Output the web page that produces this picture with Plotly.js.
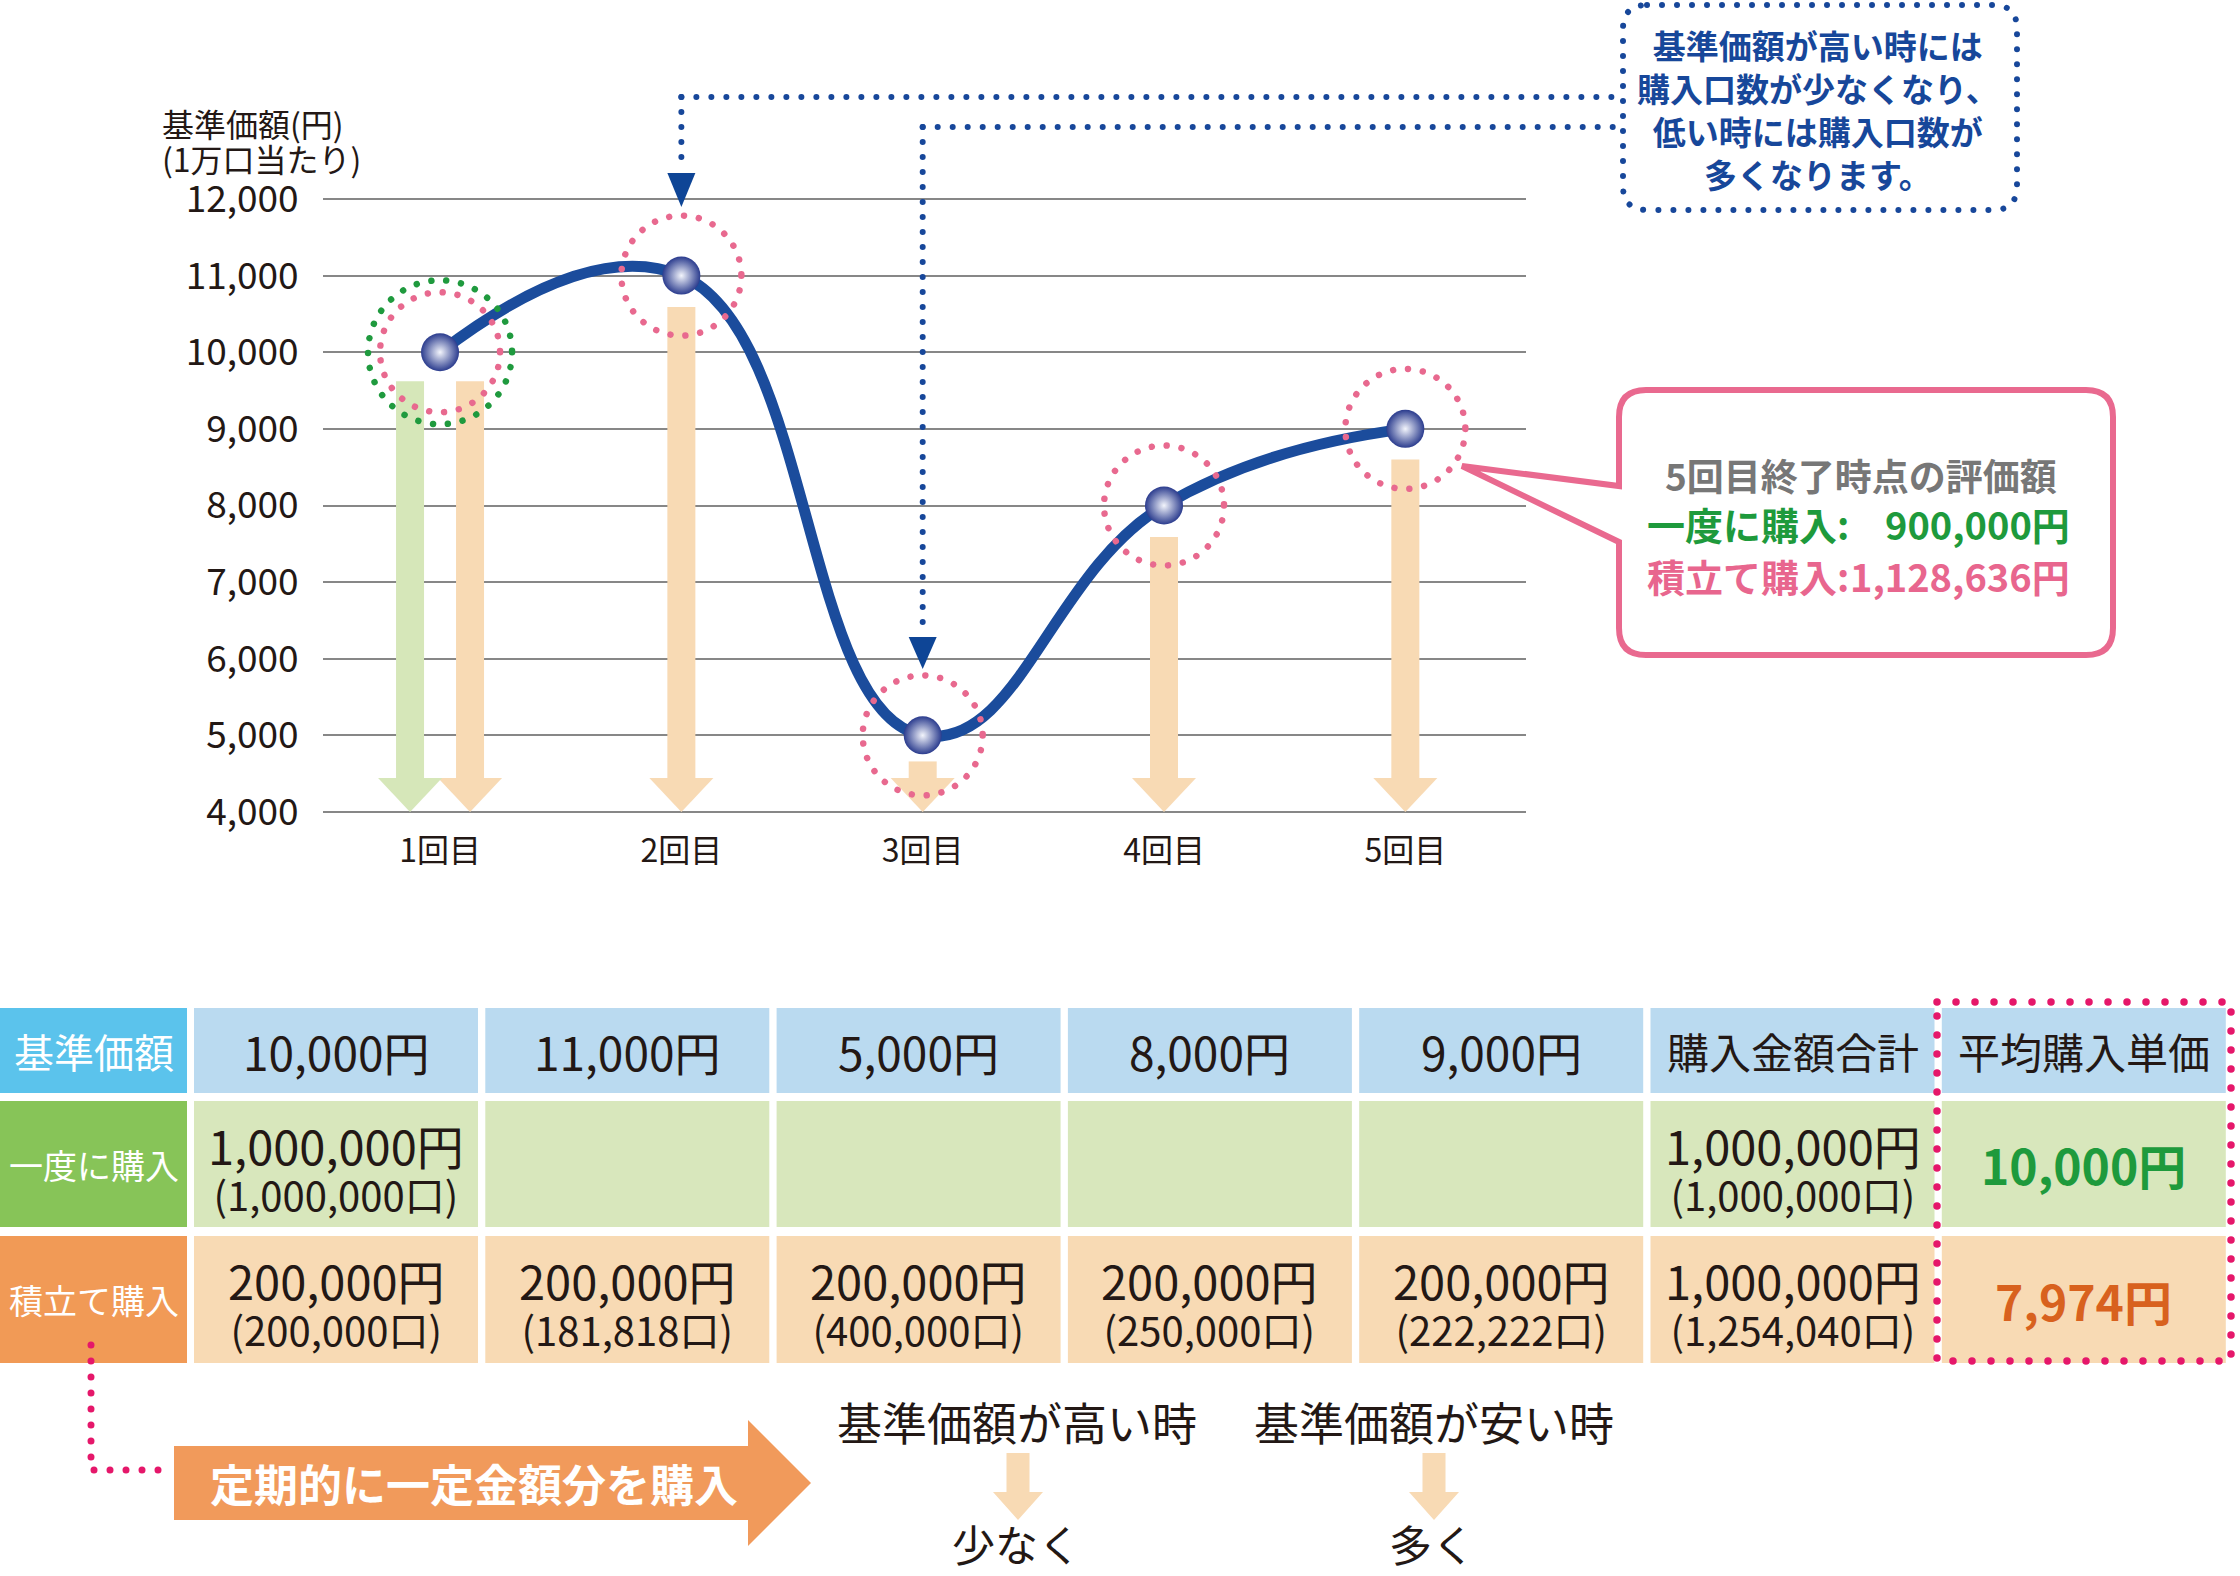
<!DOCTYPE html>
<html><head><meta charset="utf-8">
<script src="https://cdn.plot.ly/plotly-3.0.1.min.js"></script>
<style>html,body{margin:0;padding:0;background:#fff}#chart{width:2240px;height:1576px}</style>
</head><body><div id="chart"></div>
<script>
// ---------------- data ----------------
const categories = ['1回目', '2回目', '3回目', '4回目', '5回目'];
const navPrice = [10000, 11000, 5000, 8000, 9000];          // 基準価額(円)(1万口当たり)
const dcaArrowTop = [9620, 10590, 4660, 7590, 8600];         // 積立て購入 arrows (tan)
const lumpArrowTop = [9620];                                  // 一度に購入 arrow (green), 1回目 only
const yTicks = [4000, 5000, 6000, 7000, 8000, 9000, 10000, 11000, 12000];
const yTitle = ['基準価額(円)', '(1万口当たり)'];

const rowLabels = ['基準価額', '一度に購入', '積立て購入'];
const summaryHeaders = ['購入金額合計', '平均購入単価'];
const lumpAmount = [1000000, null, null, null, null];
const lumpUnits  = [1000000, null, null, null, null];
const dcaAmount  = [200000, 200000, 200000, 200000, 200000];
const dcaUnits   = [200000, 181818, 400000, 250000, 222222];
const totalAmount = [1000000, 1000000];   // [一度に購入, 積立て購入]
const totalUnits  = [1000000, 1254040];
const avgUnitPrice = [10000, 7974];
const finalValue   = [900000, 1128636];

const blueNote = ['基準価額が高い時には', '購入口数が少なくなり、', '低い時には購入口数が', '多くなります。'];
const pinkNoteTitle = '5回目終了時点の評価額';
const pinkNoteLabels = ['一度に購入:', '積立て購入:'];
const flowText = '定期的に一定金額分を購入';
const whenTexts = ['基準価額が高い時', '基準価額が安い時'];
const resultTexts = ['少なく', '多く'];

// ---------------- layout helpers ----------------
const W = 2240, H = 1576;
const yLo = 4000, yHi = 12000, yPad = 25;
const L = 323, R = 1526;
const y12px = 199, y4px = 812;
const pxPerY = (y4px - y12px) / (yHi - yLo);
const T = y12px - yPad * pxPerY, B = y4px + yPad * pxPerY;   // plot area in px
const xRange = [-0.485, 4.5], yRange = [yLo - yPad, yHi + yPad];
const pxPerX = (R - L) / (xRange[1] - xRange[0]);
const FONT = '"Noto Sans CJK JP", "Noto Sans", sans-serif';
const DARK = '#231815';
const fmt = n => n.toLocaleString('en-US');
const X = p => p / W;
const Y = p => 1 - p / H;
const xPx = v => L + (v - xRange[0]) * pxPerX;
const idx = categories.map((_, i) => i);

function pathPaper(pts) {
  return pts.map(s => {
    if (s[0] === 'Z') return 'Z';
    if (s[0] === 'Q') return 'Q' + X(s[1]) + ',' + Y(s[2]) + ' ' + X(s[3]) + ',' + Y(s[4]);
    return s[0] + X(s[1]) + ',' + Y(s[2]);
  }).join(' ');
}
function roundRect(x0, y0, x1, y1, r) {
  return pathPaper([
    ['M', x0 + r, y0], ['L', x1 - r, y0], ['Q', x1, y0, x1, y0 + r],
    ['L', x1, y1 - r], ['Q', x1, y1, x1 - r, y1], ['L', x0 + r, y1],
    ['Q', x0, y1, x0, y1 - r], ['L', x0, y0 + r], ['Q', x0, y0, x0 + r, y0], ['Z']
  ]);
}
function txt(text, x, y, size, color, o) {
  o = o || {};
  return {xref: 'paper', yref: 'paper', x: X(x), y: Y(y), text: text, showarrow: false,
    xanchor: o.xanchor || 'center', yanchor: o.yanchor || 'middle', align: o.align || 'center',
    font: {family: FONT, size: size, color: color, weight: o.bold ? 700 : 400}};
}

// ---------------- traces ----------------
const shaftW = 28 / pxPerX;
const side = 30 / pxPerX;
const headBase = yLo + 30 / pxPerY;
const dcaShift = idx.map(i => (lumpAmount[i] ? side : 0));

const traces = [
  { type: 'bar', x: idx, base: headBase, y: dcaArrowTop.map(v => v - headBase),
    width: shaftW, offset: dcaShift.map(s => s - shaftW / 2),
    marker: {color: '#f8dab4', line: {width: 0}}, hoverinfo: 'skip' },
  { type: 'bar', x: [0], base: headBase, y: lumpArrowTop.map(v => v - headBase),
    width: shaftW, offset: -side - shaftW / 2,
    marker: {color: '#d6e7b9', line: {width: 0}}, hoverinfo: 'skip' },
  { type: 'scatter', mode: 'lines+markers', x: idx, y: navPrice,
    line: {color: '#1b4c9c', width: 11, shape: 'spline', smoothing: 1.3},
    marker: {size: 38, color: '#2b3c8e', gradient: {type: 'radial', color: '#f3f5fc'}, line: {width: 0}},
    hoverinfo: 'skip' }
];

// ---------------- shapes ----------------
const shapes = [];
idx.forEach(i => shapes.push({type: 'path', xref: 'x', yref: 'y', xsizemode: 'pixel', ysizemode: 'pixel',
  xanchor: i + dcaShift[i], yanchor: yLo, path: 'M-32,34 L32,34 L0,0 Z',
  fillcolor: '#f8dab4', line: {width: 0}}));
lumpArrowTop.forEach((v, i) => shapes.push({type: 'path', xref: 'x', yref: 'y', xsizemode: 'pixel', ysizemode: 'pixel',
  xanchor: i - side, yanchor: yLo, path: 'M-32,34 L32,34 L0,0 Z',
  fillcolor: '#d6e7b9', line: {width: 0}}));
shapes.push({type: 'circle', xref: 'x', yref: 'y', xsizemode: 'pixel', ysizemode: 'pixel',
  xanchor: 0, yanchor: navPrice[0], x0: -72, x1: 72, y0: -72, y1: 72,
  line: {color: '#1f9a3e', width: 6.5, dash: '6.5px,8.5px'}});
idx.forEach(i => shapes.push({type: 'circle', xref: 'x', yref: 'y', xsizemode: 'pixel', ysizemode: 'pixel',
  xanchor: i, yanchor: navPrice[i], x0: -60, x1: 60, y0: -60, y1: 60,
  line: {color: '#e8698f', width: 6.5, dash: '6.5px,8.5px'}}));

const BLUE = '#17479a';
shapes.push({type: 'path', xref: 'paper', yref: 'paper', path: roundRect(1623, 5, 2017, 210, 24),
  line: {color: BLUE, width: 6, dash: '6px,9px'}});
[[1, 97, 173, 207], [2, 127, 637, 669]].forEach(c => {
  const [i, yh, yHeadTop, yTip] = c;
  shapes.push({type: 'line', xref: 'paper', yref: 'paper', x0: X(xPx(i)), x1: X(1623), y0: Y(yh), y1: Y(yh),
    line: {color: BLUE, width: 6, dash: '6px,9px'}});
  shapes.push({type: 'line', xref: 'x', yref: 'paper', x0: i, x1: i, y0: Y(yh), y1: Y(yHeadTop - 4),
    line: {color: BLUE, width: 6, dash: '6px,9px'}});
  shapes.push({type: 'path', xref: 'x', yref: 'paper', xsizemode: 'pixel', xanchor: i,
    path: 'M-14,' + Y(yHeadTop) + ' L14,' + Y(yHeadTop) + ' L0,' + Y(yTip) + ' Z',
    fillcolor: '#0e4596', line: {width: 0}});
});

shapes.push({type: 'path', xref: 'paper', yref: 'paper', fillcolor: '#ffffff',
  line: {color: '#e9698f', width: 6},
  path: pathPaper([
    ['M', 1646, 390], ['L', 2086, 390], ['Q', 2113, 390, 2113, 417], ['L', 2113, 628],
    ['Q', 2113, 655, 2086, 655], ['L', 1646, 655], ['Q', 1619, 655, 1619, 628],
    ['L', 1619, 542], ['L', 1462, 466], ['L', 1619, 486], ['L', 1619, 417],
    ['Q', 1619, 390, 1646, 390], ['Z']])});

const rowY = [[1008, 1093], [1101, 1227], [1236, 1363]];
const colX = [[0, 187]].concat([1, 2, 3, 4, 5, 6, 7].map(c => [194 + (c - 1) * 291.3, 194 + (c - 1) * 291.3 + 284]));
const labelFill = ['#5bc3ec', '#87c458', '#f19a56'];
const cellFill = ['#badaf0', '#d8e7bc', '#f8dab4'];
rowY.forEach((ry, r) => colX.forEach((cx, c) => {
  shapes.push({type: 'rect', xref: 'paper', yref: 'paper', layer: 'below',
    x0: X(cx[0]), x1: X(cx[1]), y0: Y(ry[0]), y1: Y(ry[1]),
    fillcolor: c === 0 ? labelFill[r] : cellFill[r], line: {width: 0}});
}));
shapes.push({type: 'rect', xref: 'paper', yref: 'paper', x0: X(1937), x1: X(2231), y0: Y(1002), y1: Y(1361),
  line: {color: '#e5176a', width: 7.5, dash: '7.5px,11.5px'}});
shapes.push({type: 'path', xref: 'paper', yref: 'paper',
  path: pathPaper([['M', 91, 1345], ['L', 91, 1470], ['L', 168, 1470]]),
  line: {color: '#e5176a', width: 7, dash: '7px,9px'}});
shapes.push({type: 'path', xref: 'paper', yref: 'paper', fillcolor: '#f19a5b', line: {width: 0},
  path: pathPaper([['M', 174, 1446], ['L', 748, 1446], ['L', 748, 1420], ['L', 811, 1483],
    ['L', 748, 1546], ['L', 748, 1520], ['L', 174, 1520], ['Z']])});
[1018, 1434].forEach(cx => shapes.push({type: 'path', xref: 'paper', yref: 'paper', fillcolor: '#f8dab4', line: {width: 0},
  path: pathPaper([['M', cx - 11.5, 1453], ['L', cx + 11.5, 1453], ['L', cx + 11.5, 1492], ['L', cx + 25, 1492],
    ['L', cx, 1520], ['L', cx - 25, 1492], ['L', cx - 11.5, 1492], ['Z']])}));

// ---------------- annotations ----------------
const ann = [];
ann.push(txt(yTitle[0], 160, 123, 32, DARK, {xanchor: 'left'}));
ann.push(txt(yTitle[1], 160, 158, 32, DARK, {xanchor: 'left'}));
ann.push(txt(blueNote.join('<br>'), 1818, 110, 33, BLUE, {bold: true}));
ann.push(txt(pinkNoteTitle, 1861, 475, 37, '#777777', {bold: true}));
ann.push(txt(pinkNoteLabels[0], 1645, 523, 38, '#1e9a3c', {bold: true, xanchor: 'left'}));
ann.push(txt(fmt(finalValue[0]) + '円', 2072, 523, 38, '#1e9a3c', {bold: true, xanchor: 'right'}));
ann.push(txt(pinkNoteLabels[1], 1645, 575, 38, '#e8668e', {bold: true, xanchor: 'left'}));
ann.push(txt(fmt(finalValue[1]) + '円', 2072, 575, 38, '#e8668e', {bold: true, xanchor: 'right'}));

const cxc = c => (colX[c][0] + colX[c][1]) / 2;
const cyc = r => (rowY[r][0] + rowY[r][1]) / 2;
ann.push(txt(rowLabels[0], cxc(0), cyc(0), 40, '#ffffff'));
ann.push(txt(rowLabels[1], cxc(0), cyc(1), 34, '#ffffff'));
ann.push(txt(rowLabels[2], cxc(0), cyc(2), 34, '#ffffff'));
navPrice.forEach((v, i) => ann.push(txt(fmt(v) + '円', cxc(i + 1), cyc(0), 46, DARK)));
ann.push(txt(summaryHeaders[0], cxc(6), cyc(0), 42, DARK));
ann.push(txt(summaryHeaders[1], cxc(7), cyc(0), 42, DARK));
function twoLine(c, r, amt, units) {
  ann.push(txt('<span style="font-size:47px">' + fmt(amt) + '円</span><br><span style="font-size:40px">(' + fmt(units) + '口)</span>',
    cxc(c), cyc(r) + 2, 35.5, DARK));
}
lumpAmount.forEach((v, i) => { if (v) twoLine(i + 1, 1, v, lumpUnits[i]); });
dcaAmount.forEach((v, i) => twoLine(i + 1, 2, v, dcaUnits[i]));
twoLine(6, 1, totalAmount[0], totalUnits[0]);
twoLine(6, 2, totalAmount[1], totalUnits[1]);
ann.push(txt(fmt(avgUnitPrice[0]) + '円', cxc(7), cyc(1), 48, '#1e9a3c', {bold: true}));
ann.push(txt(fmt(avgUnitPrice[1]) + '円', cxc(7), cyc(2), 48, '#d8611e', {bold: true}));

ann.push(txt(flowText, 474, 1483, 44, '#ffffff', {bold: true}));
ann.push(txt(whenTexts[0], 1017, 1421, 45, DARK));
ann.push(txt(whenTexts[1], 1434, 1421, 45, DARK));
ann.push(txt(resultTexts[0], 1016, 1576, 43, DARK, {yanchor: 'bottom'}));
ann.push(txt(resultTexts[1], 1432, 1576, 43, DARK, {yanchor: 'bottom'}));

const layout = {
  width: W, height: H, margin: {l: 0, r: 0, t: 0, b: 0},
  paper_bgcolor: '#ffffff', plot_bgcolor: '#ffffff', showlegend: false, hovermode: false,
  barmode: 'overlay',
  xaxis: {domain: [X(L), X(R)], range: xRange, tickmode: 'array', tickvals: idx, ticktext: categories,
    showgrid: false, zeroline: false, showline: false, ticks: 'outside', ticklen: 9,
    tickcolor: 'rgba(0,0,0,0)', tickfont: {family: FONT, size: 32, color: DARK}, fixedrange: true},
  yaxis: {domain: [Y(B), Y(T)], range: yRange, tickmode: 'array', tickvals: yTicks, ticktext: yTicks.map(fmt),
    showgrid: true, gridcolor: '#878787', gridwidth: 2, zeroline: false, showline: false,
    ticks: 'outside', ticklen: 16, tickcolor: 'rgba(0,0,0,0)',
    tickfont: {family: FONT, size: 37, color: DARK}, fixedrange: true},
  shapes: shapes, annotations: ann
};

Plotly.newPlot('chart', traces, layout, {staticPlot: true, displayModeBar: false}).then(() => {
  document.querySelectorAll('#chart svg path').forEach(p => {
    const d = p.style.strokeDasharray;
    if (!d || d === 'none') return;
    const parts = d.split(/[ ,]+/).map(parseFloat).filter(v => !isNaN(v));
    if (parts.length < 2) return;
    const period = parts[0] + parts[1];
    p.style.strokeDasharray = '0.01px, ' + (period - 0.01) + 'px';
    p.style.strokeLinecap = 'round';
  });
});
</script></body></html>
